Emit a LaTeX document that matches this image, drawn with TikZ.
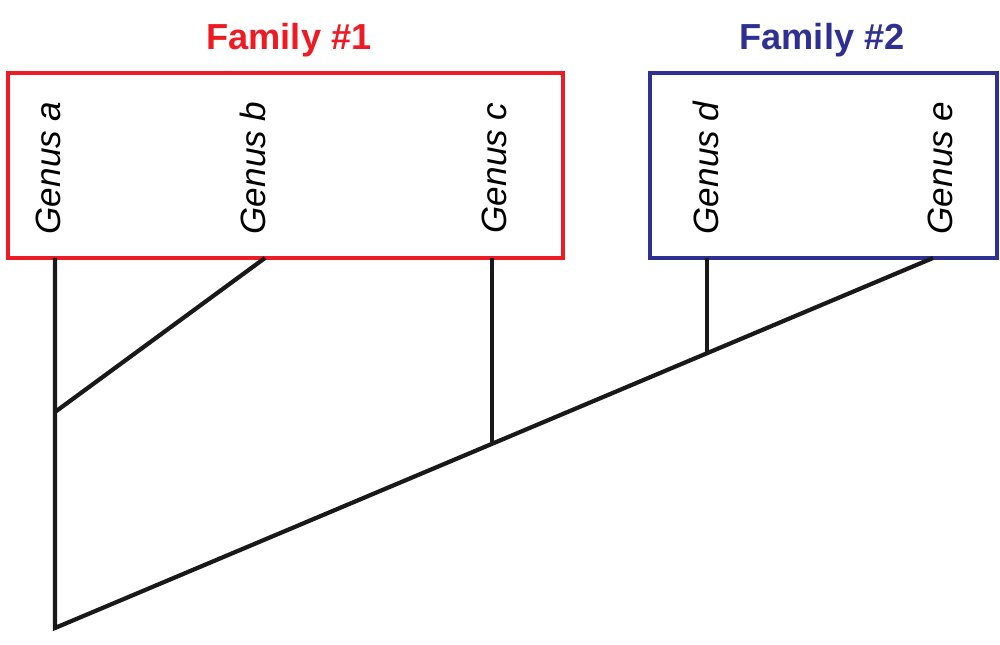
\documentclass[tikz,border=0pt]{standalone}
\usepackage{fontspec}
\setmainfont{Liberation Sans}
\usepackage{tikz}
\usetikzlibrary{positioning}

\definecolor{famred}{RGB}{237,28,36}
\definecolor{famblue}{RGB}{46,49,146}

\begin{document}
\begin{tikzpicture}[
    famtitle/.style={font=\fontsize{10.3}{12}\selectfont\bfseries},
    fambox/.style={line width=1.3pt},
    genus/.style={rotate=90, font=\fontsize{10}{12}\selectfont\itshape},
    branch/.style={line width=1.2pt, black!90}
]
    \useasboundingbox (0,0) rectangle (10,6.45);

    % Boxes and titles
    \draw[fambox, famred] (0.08,3.87) rectangle (5.63,5.72);
    \draw[fambox, famblue] (6.50,3.87) rectangle (9.97,5.72);
    \node[famtitle, famred] (fam1) at (2.89,6.05) {Family \#1};
    \node[famtitle, famblue] (fam2) at (8.22,6.05) {Family \#2};

    % Genus labels
    \node[genus] (ga) at (0.48,4.77) {Genus a};
    \node[genus] (gb) at (2.53,4.77) {Genus b};
    \node[genus] (gc) at (4.94,4.77) {Genus c};
    \node[genus] (gd) at (7.06,4.77) {Genus d};
    \node[genus] (ge) at (9.40,4.77) {Genus e};

    % Tips and internal nodes
    \coordinate (ta) at (0.55,3.87);
    \coordinate (tb) at (2.65,3.87);
    \coordinate (tc) at (4.92,3.87);
    \coordinate (td) at (7.07,3.87);
    \coordinate (te) at (9.33,3.87);
    \coordinate (root) at (0.55,0.17);
    \coordinate (nab) at (0.55,2.33);
    \coordinate (nc) at (4.92,2.03);
    \coordinate (nd) at (7.07,2.93);

    % Tree
    \draw[branch] (ta) -- (root) -- (te);
    \draw[branch] (tb) -- (nab);
    \draw[branch] (tc) -- (nc);
    \draw[branch] (td) -- (nd);
\end{tikzpicture}
\end{document}
